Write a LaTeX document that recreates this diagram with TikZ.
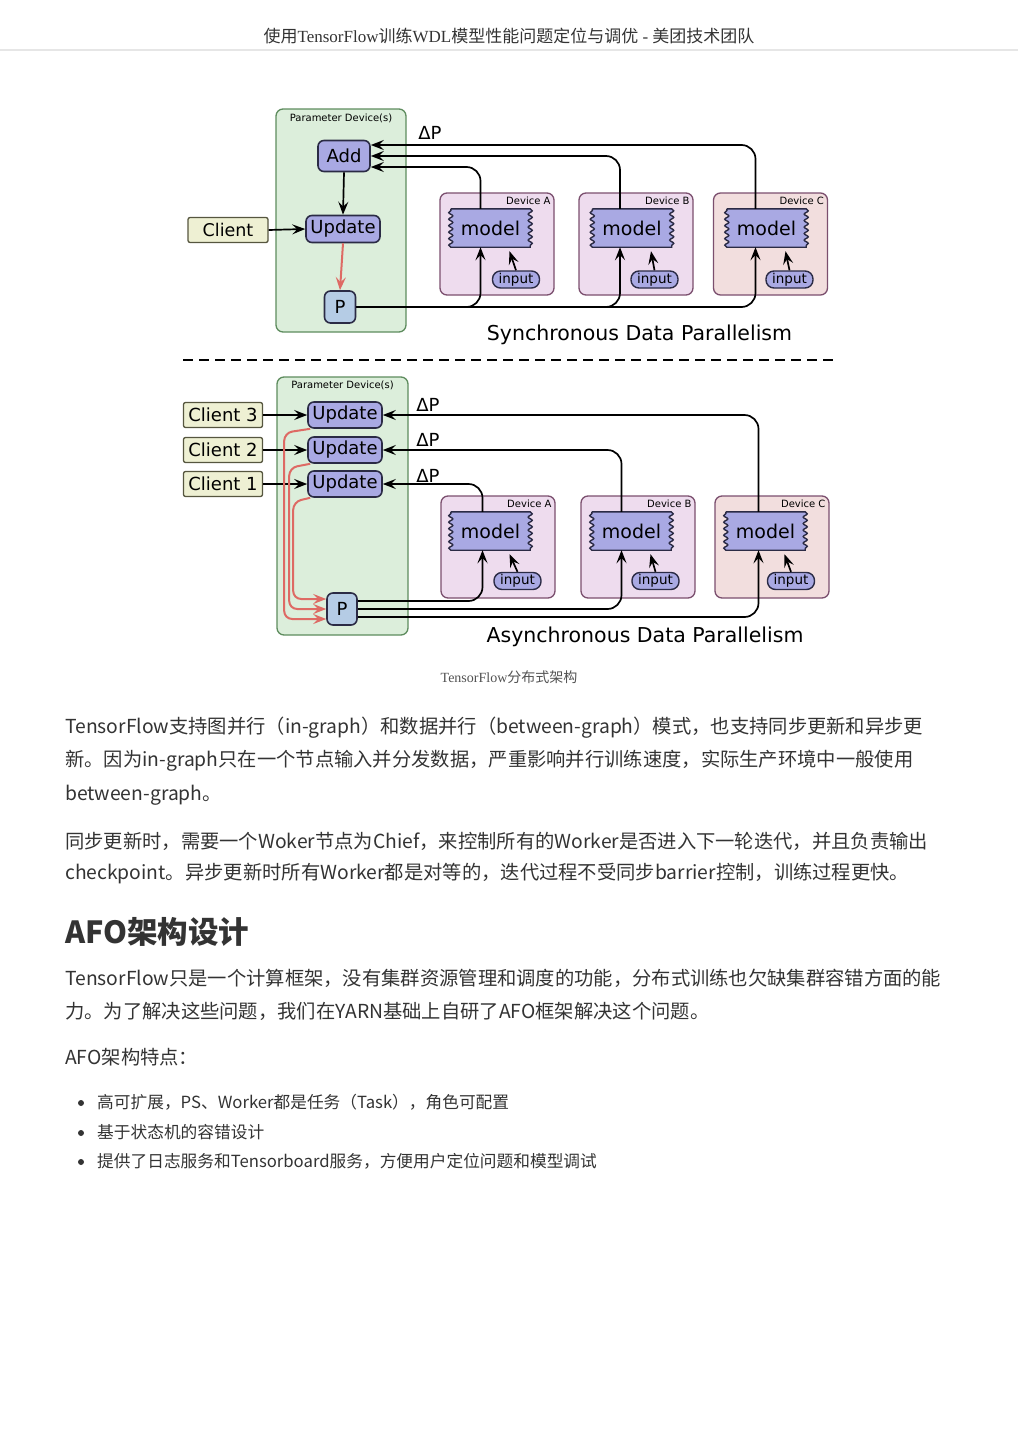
\documentclass[tikz,border=0pt]{standalone}
\usepackage{fontspec}
\setmainfont{DejaVu Sans}
\newfontfamily\cjk{Noto Sans CJK SC}
\newfontfamily\tms{Liberation Serif}
\usetikzlibrary{arrows.meta,decorations.pathmorphing}
\pgfdeclarelayer{back}\pgfdeclarelayer{mid}\pgfsetlayers{back,mid,main}
\definecolor{pgreen}{HTML}{DCEEDB}
\definecolor{pgreenb}{HTML}{5E8C5E}
\definecolor{lav}{HTML}{A9A9E3}
\definecolor{navy}{HTML}{2B2B45}
\definecolor{cli}{HTML}{EEF0D3}
\definecolor{clib}{HTML}{56563F}
\definecolor{pblue}{HTML}{B5CCE5}
\definecolor{devab}{HTML}{EEDCEE}
\definecolor{devc}{HTML}{F2DEDE}
\definecolor{devbd}{HTML}{7B4F6E}
\definecolor{redarr}{HTML}{DE6A64}
\definecolor{txt}{HTML}{333333}
\definecolor{rule}{HTML}{E6E6E6}
\newcommand\fsz[1]{\fontsize{#1}{#1}\selectfont}
\tikzset{
 opnode/.style={draw=navy, line width=1.6pt, fill=lav, rounded corners=6pt, inner sep=0pt, font=\fsz{18}},
 client/.style={draw=clib, line width=1.3pt, fill=cli, rounded corners=2pt, inner sep=0pt, minimum width=80pt, minimum height=25pt, font=\fsz{18}},
 pnode/.style={draw=navy, line width=1.6pt, fill=pblue, rounded corners=6pt, inner sep=0pt, minimum width=31pt, minimum height=32pt, font=\fsz{18}},
 inputnode/.style={draw=navy, line width=1.4pt, fill=lav, rounded corners=8pt, inner sep=0pt, minimum width=47pt, minimum height=17pt, font=\fsz{13.5}},
 modeltext/.style={inner sep=0pt, minimum width=79pt, minimum height=38pt, font=\fsz{19}},
 modelshape/.style={draw=navy, line width=1.4pt, fill=lav, decoration={snake, amplitude=2pt, segment length=6.5pt}},
 parambox/.style={draw=pgreenb, line width=1.3pt, fill=pgreen, rounded corners=7pt, inner sep=0pt},
 devbox/.style={draw=devbd, line width=1.3pt, rounded corners=7pt, inner sep=0pt, minimum width=114pt, minimum height=102pt},
 smalllab/.style={font=\fsz{10}, inner sep=0pt},
 conn/.style={line width=1.7pt, black, rounded corners=14pt},
 arrowtip/.style={-{Stealth[length=13pt,width=10pt,inset=5pt]}},
 redconn/.style={line width=2pt, redarr, rounded corners=8pt, -{Stealth[length=13pt,width=10pt,inset=5pt]}},
 dplabel/.style={font=\fsz{18}, inner sep=0pt},
 title/.style={font=\fsz{20.5}, inner sep=0pt},
 body/.style={font={\cjk\fsz{19.3}}, text=txt, anchor=west, inner sep=0pt},
 bul/.style={font={\cjk\fsz{16.7}}, text=txt, anchor=west, inner sep=0pt},
 dot/.style={circle, fill=txt, inner sep=0pt, minimum size=6pt},
}
\newcommand\mdl[3]{%
 \node[modeltext] (#1) at (#2,#3) {model};
 \begin{pgfonlayer}{mid}
 \draw[modelshape] (#1.north west) -- (#1.north east) decorate{-- (#1.south east)} -- (#1.south west) decorate{-- (#1.north west)} -- cycle;
 \end{pgfonlayer}}
\begin{document}
\begin{tikzpicture}[x=1pt,y=-1pt]
\useasboundingbox (0,0) rectangle (1018,1440);
% header
\node[font=\fsz{17}, text=txt, inner sep=0pt] (hdr) at (509,36) {{\cjk 使用}{\tms TensorFlow}{\cjk 训练}{\tms WDL}{\cjk 模型性能问题定位与调优}{\tms\ -\ }{\cjk 美团技术团队}};
\coordinate (rl) at (0,50); \coordinate (rr) at (1018,50);
\draw[rule, line width=1.5pt] (rl) -- (rr);

% ===== synchronous =====
\begin{pgfonlayer}{back}
\node[parambox, minimum width=130pt, minimum height=223pt] (pd1) at (341,220.5) {};
\node[devbox, fill=devab] (dA) at (497,244) {};
\node[devbox, fill=devab] (dB) at (636,244) {};
\node[devbox, fill=devc] (dC) at (770.5,244) {};
\end{pgfonlayer}
\node[smalllab, anchor=north] (pd1l) at ([yshift=-5pt]pd1.north) {Parameter Device(s)};
\node[smalllab, anchor=north east] (dAl) at ([xshift=-4pt,yshift=-4pt]dA.north east) {Device A};
\node[smalllab, anchor=north east] (dBl) at ([xshift=-4pt,yshift=-4pt]dB.north east) {Device B};
\node[smalllab, anchor=north east] (dCl) at ([xshift=-4pt,yshift=-4pt]dC.north east) {Device C};
\node[opnode, minimum width=52pt, minimum height=31pt] (add) at (344,156) {Add};
\node[opnode, minimum width=74pt, minimum height=27pt] (upd) at (343,229) {Update};
\node[client, font=\fsz{17.5}] (client) at (228,230) {Client};
\node[pnode] (P) at (340,307) {P};
\mdl{mA}{490.5}{228}
\mdl{mB}{632}{228}
\mdl{mC}{766.5}{228}
\node[inputnode] (iA) at (516,279.5) {input};
\node[inputnode] (iB) at (654.5,279.5) {input};
\node[inputnode] (iC) at (789.5,279.5) {input};
\node[dplabel] (dp0) at (430,133) {ΔP};
\node[title] (sync) at (639.5,335) {Synchronous Data Parallelism};

\draw[conn,arrowtip] (add.south) -- (upd.north);
\draw[conn,arrowtip] (client.east) -- (upd.west);
\draw[redconn] (upd.south) -- (P.north);
\draw[conn,arrowtip] ([xshift=-11pt]mC.north) |- ([yshift=11pt]add.east);
\draw[conn,arrowtip] ([xshift=-12pt]mB.north) |- (add.east);
\draw[conn,arrowtip] ([xshift=-10pt]mA.north) |- ([yshift=-11pt]add.east);
\draw[conn,arrowtip] (P.east) -| ([xshift=-10pt]mA.south);
\draw[conn,arrowtip] (P.east) -| ([xshift=-12pt]mB.south);
\draw[conn,arrowtip] (P.east) -| ([xshift=-11pt]mC.south);
\draw[conn,arrowtip] (iA.north) -- ([xshift=19pt,yshift=-4pt]mA.south);
\draw[conn,arrowtip] (iB.north) -- ([xshift=19pt,yshift=-4pt]mB.south);
\draw[conn,arrowtip] (iC.north) -- ([xshift=19pt,yshift=-4pt]mC.south);

% separator
\coordinate (sl) at (183,360); \coordinate (sr) at (836,360);
\draw[line width=2pt, dash pattern=on 10pt off 6pt] (sl) -- (sr);

% ===== asynchronous =====
\begin{pgfonlayer}{back}
\node[parambox, minimum width=131pt, minimum height=258pt] (pd2) at (342.5,506) {};
\node[devbox, fill=devab] (dA2) at (498,547) {};
\node[devbox, fill=devab] (dB2) at (638,547) {};
\node[devbox, fill=devc] (dC2) at (772,547) {};
\end{pgfonlayer}
\node[smalllab, anchor=north] (pd2l) at ([yshift=-4pt]pd2.north) {Parameter Device(s)};
\node[smalllab, anchor=north east] (dAl2) at ([xshift=-4pt,yshift=-4pt]dA2.north east) {Device A};
\node[smalllab, anchor=north east] (dBl2) at ([xshift=-4pt,yshift=-4pt]dB2.north east) {Device B};
\node[smalllab, anchor=north east] (dCl2) at ([xshift=-4pt,yshift=-4pt]dC2.north east) {Device C};
\node[opnode, minimum width=74pt, minimum height=26pt] (u3) at (345,415) {Update};
\node[opnode, minimum width=74pt, minimum height=26pt] (u2) at (345,450) {Update};
\node[opnode, minimum width=74pt, minimum height=26pt] (u1) at (345,484) {Update};
\node[client, minimum width=79pt] (c3) at (223,415) {Client 3};
\node[client, minimum width=79pt] (c2) at (223,450) {Client 2};
\node[client, minimum width=79pt] (c1) at (223,484) {Client 1};
\node[pnode, minimum width=30pt] (P2) at (342,609) {P};
\mdl{mA2}{490.5}{531}
\mdl{mB2}{631.5}{531}
\mdl{mC2}{765.5}{531}
\node[inputnode] (iA2) at (517.5,581) {input};
\node[inputnode] (iB2) at (655.5,581) {input};
\node[inputnode] (iC2) at (791,581) {input};
\node[dplabel] (dp3) at (428,405) {ΔP};
\node[dplabel] (dp2) at (428,440) {ΔP};
\node[dplabel] (dp1) at (428,476) {ΔP};
\node[title] (async) at (645,637) {Asynchronous Data Parallelism};

\draw[conn,arrowtip] (c3.east) -- (u3.west);
\draw[conn,arrowtip] (c2.east) -- (u2.west);
\draw[conn,arrowtip] (c1.east) -- (u1.west);
\draw[conn,arrowtip] ([xshift=-7pt]mC2.north) |- (u3.east);
\draw[conn,arrowtip] ([xshift=-10pt]mB2.north) |- (u2.east);
\draw[conn,arrowtip] ([xshift=-8pt]mA2.north) |- (u1.east);
\draw[conn,arrowtip] ([yshift=8pt]P2.east) -| ([xshift=-8pt]mA2.south);
\draw[conn,arrowtip] (P2.east) -| ([xshift=-10pt]mB2.south);
\draw[conn,arrowtip] ([yshift=-8pt]P2.east) -| ([xshift=-7pt]mC2.south);
\draw[conn,arrowtip] (iA2.north) -- ([xshift=19pt,yshift=-4pt]mA2.south);
\draw[conn,arrowtip] (iB2.north) -- ([xshift=19pt,yshift=-4pt]mB2.south);
\draw[conn,arrowtip] (iC2.north) -- ([xshift=19pt,yshift=-4pt]mC2.south);
\draw[redconn] ([xshift=3pt]u3.south west) -- ++(-26,4) |- ([yshift=-10pt]P2.west);
\draw[redconn] ([xshift=3pt]u2.south west) -- ++(-21,4) |- (P2.west);
\draw[redconn] ([xshift=3pt]u1.south west) -- ++(-17,4) |- ([yshift=10pt]P2.west);

% caption
\node[font=\fsz{14}, text=txt!85, inner sep=0pt] (cap) at (509,677) {{\tms TensorFlow}{\cjk 分布式架构}};

% body text
\node[body] (l1) at (65,728) {TensorFlow支持图并行（in-graph）和数据并行（between-graph）模式，也支持同步更新和异步更};
\node[body] (l2) at (65,761) {新。因为in-graph只在一个节点输入并分发数据，严重影响并行训练速度，实际生产环境中一般使用};
\node[body] (l3) at (65,795) {between-graph。};
\node[body] (l4) at (65,841) {同步更新时，需要一个Woker节点为Chief，来控制所有的Worker是否进入下一轮迭代，并且负责输出};
\node[body] (l5) at (65,874) {checkpoint。异步更新时所有Worker都是对等的，迭代过程不受同步barrier控制，训练过程更快。};
\node[body, font={\cjk\bfseries\fsz{30.5}}] (h1) at (65,932) {AFO架构设计};
\node[body] (l6) at (65,978) {TensorFlow只是一个计算框架，没有集群资源管理和调度的功能，分布式训练也欠缺集群容错方面的能};
\node[body] (l7) at (65,1011) {力。为了解决这些问题，我们在YARN基础上自研了AFO框架解决这个问题。};
\node[body] (l8) at (65,1057) {AFO架构特点：};
\node[dot] (d1) at (81,1103) {};
\node[bul] (b1) at (97,1102) {高可扩展，PS、Worker都是任务（Task），角色可配置};
\node[dot] (d2) at (81,1133) {};
\node[bul] (b2) at (97,1132) {基于状态机的容错设计};
\node[dot] (d3) at (81,1162) {};
\node[bul] (b3) at (97,1161) {提供了日志服务和Tensorboard服务，方便用户定位问题和模型调试};
\end{tikzpicture}
\end{document}
